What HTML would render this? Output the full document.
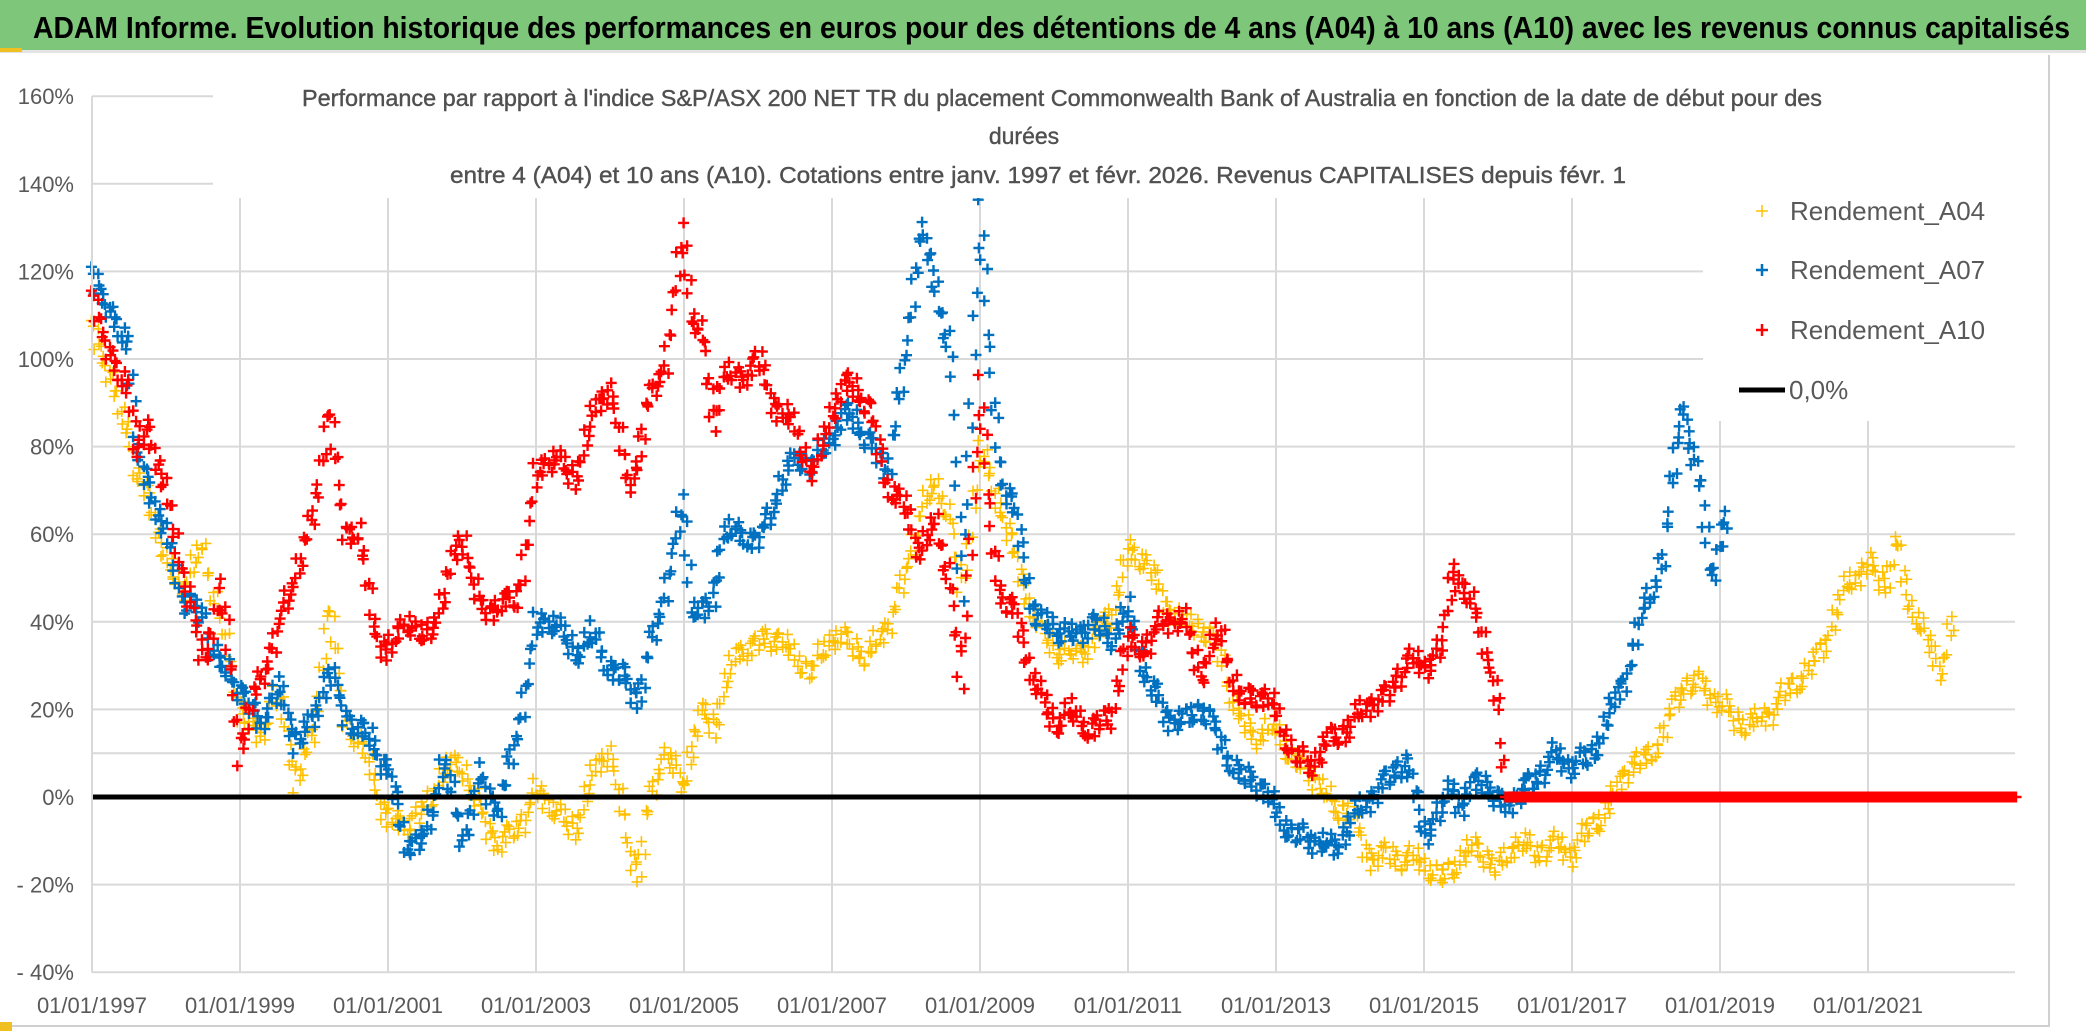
<!DOCTYPE html>
<html><head><meta charset="utf-8"><style>
html,body{margin:0;padding:0;background:#fff;}
svg{display:block;font-family:"Liberation Sans Narrow","Liberation Sans",sans-serif;}
</style></head><body>
<svg id="chart" width="2086" height="1031" viewBox="0 0 2086 1031" xmlns="http://www.w3.org/2000/svg">
<rect x="0" y="0" width="2086" height="1031" fill="#fff"/>
<rect x="0" y="0" width="2086" height="50" fill="#7dc67a"/>
<rect x="0" y="50" width="2086" height="3" fill="#e4e4e4"/>
<rect x="0" y="48" width="22" height="4" fill="#f0c020"/>
<text x="33" y="38" font-size="31" font-weight="bold" fill="#000" textLength="2037" lengthAdjust="spacingAndGlyphs">ADAM Informe. Evolution historique des performances en euros pour des détentions de 4 ans (A04) à 10 ans (A10) avec les revenus connus capitalisés</text>
<line x1="2049" y1="55" x2="2049" y2="1025" stroke="#d0d0d0" stroke-width="2"/>
<line x1="0" y1="1026" x2="2050" y2="1026" stroke="#d0d0d0" stroke-width="2"/>
<rect x="0" y="1022" width="12" height="9" fill="#f0c020"/>
<g id="grid"></g>
<g id="marks"></g>
<rect x="213" y="60" width="1802" height="138" fill="#fff"/>
<rect x="1703" y="198" width="312" height="223" fill="#fff"/>
<g fill="#505050" font-size="23" stroke="#505050" stroke-width="0.4">
<text x="302" y="106" textLength="1520" lengthAdjust="spacingAndGlyphs">Performance par rapport à l'indice S&amp;P/ASX 200 NET TR  du placement Commonwealth Bank of Australia en fonction de la date de début pour des</text>
<text x="1024" y="144" text-anchor="middle">durées</text>
<text x="450" y="183" textLength="1176" lengthAdjust="spacingAndGlyphs">entre 4 (A04) et 10 ans (A10). Cotations entre janv. 1997 et févr. 2026. Revenus CAPITALISES depuis févr. 1</text>
</g>
<g id="axes"></g>
<g font-size="26" fill="#595959">
<g><path d="M1756 211h12M1762 205v12" stroke="#ffc000" stroke-width="1.5"/><text x="1790" y="220">Rendement_A04</text></g>
<g><path d="M1756 270h12M1762 264v12" stroke="#0070c0" stroke-width="2.5"/><text x="1790" y="279">Rendement_A07</text></g>
<g><path d="M1756 330h12M1762 324v12" stroke="#ff0000" stroke-width="2.5"/><text x="1790" y="339">Rendement_A10</text></g>
<g><line x1="1739" y1="390" x2="1785" y2="390" stroke="#000" stroke-width="5"/><text x="1789" y="399">0,0%</text></g>
</g>
</svg>
<script>
const a04Dates=[1997.0,1997.25,1997.5,1997.6,1997.75,1998.0,1998.25,1998.5,1998.75,1999.0,1999.25,1999.5,1999.75,2000.0,2000.2,2000.4,2000.6,2000.8,2001.0,2001.25,2001.5,2001.75,2002.0,2002.25,2002.5,2002.75,2003.0,2003.25,2003.5,2003.75,2004.0,2004.25,2004.4,2004.5,2004.75,2005.0,2005.1,2005.25,2005.4,2005.5,2005.75,2006.0,2006.25,2006.5,2006.75,2007.0,2007.25,2007.5,2007.75,2008.0,2008.2,2008.4,2008.6,2008.75,2009.0,2009.15,2009.3,2009.5,2009.75,2010.0,2010.25,2010.5,2010.75,2011.0,2011.25,2011.5,2011.75,2012.0,2012.25,2012.5,2012.75,2013.0,2013.25,2013.5,2013.75,2014.0,2014.25,2014.5,2014.75,2015.0,2015.25,2015.5,2015.75,2016.0,2016.25,2016.5,2016.75,2017.0,2017.25,2017.5,2017.75,2018.0,2018.25,2018.5,2018.75,2019.0,2019.25,2019.5,2019.75,2020.0,2020.25,2020.5,2020.75,2021.0,2021.25,2021.4,2021.5,2021.75,2022.0,2022.15];
const a04Values=[110,95,85,72,70,52,48,58,40,20,12,25,5,15,45,18,12,5,-5,-5,-3,5,7,-3,-10,-7,0,-3,-8,5,12,-12,-18,-5,12,2,13,20,15,22,33,35,38,32,28,36,35,33,40,50,65,70,65,45,80,72,65,52,40,35,33,35,40,55,55,45,40,38,32,18,15,16,7,5,-2,-2,-13,-14,-15,-15,-18,-13,-12,-18,-10,-12,-10,-13,-8,-3,8,9,15,25,25,22,18,17,20,25,30,40,50,52,48,58,48,38,30,40];
const a07Dates=[1997.0,1997.25,1997.5,1997.6,1997.75,1998.0,1998.25,1998.5,1998.75,1999.0,1999.25,1999.5,1999.75,2000.0,2000.2,2000.4,2000.6,2000.8,2001.0,2001.25,2001.5,2001.75,2002.0,2002.25,2002.5,2002.75,2003.0,2003.25,2003.5,2003.75,2004.0,2004.25,2004.4,2004.5,2004.75,2005.0,2005.1,2005.25,2005.4,2005.5,2005.75,2006.0,2006.25,2006.5,2006.75,2007.0,2007.25,2007.5,2007.75,2008.0,2008.2,2008.4,2008.6,2008.75,2009.0,2009.15,2009.3,2009.5,2009.75,2010.0,2010.25,2010.5,2010.75,2011.0,2011.25,2011.5,2011.75,2012.0,2012.25,2012.5,2012.75,2013.0,2013.25,2013.5,2013.75,2014.0,2014.25,2014.5,2014.75,2015.0,2015.25,2015.4,2015.5,2015.75,2016.0,2016.25,2016.5,2016.75,2017.0,2017.25,2017.5,2017.75,2018.0,2018.25,2018.4,2018.5,2018.6,2018.75,2018.9,2019.1];
const a07Values=[122,110,105,78,72,58,45,42,30,25,15,25,14,18,30,18,15,12,7,-10,-10,8,-10,5,-2,15,38,40,33,38,30,25,22,30,48,68,45,42,45,58,60,58,70,78,75,82,88,82,75,100,130,115,103,45,135,95,72,62,40,40,37,40,35,42,28,20,17,20,12,5,5,-3,-10,-10,-12,-5,0,3,8,-8,-2,5,-3,5,-3,0,5,10,7,8,18,30,45,55,78,90,78,70,50,65];
const a10Dates=[1997.0,1997.25,1997.5,1997.6,1997.75,1998.0,1998.25,1998.5,1998.75,1999.0,1999.25,1999.5,1999.75,2000.0,2000.2,2000.4,2000.6,2000.8,2001.0,2001.25,2001.5,2001.75,2002.0,2002.25,2002.5,2002.75,2003.0,2003.25,2003.5,2003.75,2004.0,2004.25,2004.4,2004.5,2004.75,2005.0,2005.1,2005.25,2005.4,2005.5,2005.75,2006.0,2006.25,2006.5,2006.75,2007.0,2007.25,2007.5,2007.75,2008.0,2008.2,2008.4,2008.6,2008.75,2009.0,2009.15,2009.3,2009.5,2009.75,2010.0,2010.25,2010.5,2010.75,2011.0,2011.25,2011.5,2011.75,2012.0,2012.25,2012.5,2012.75,2013.0,2013.25,2013.5,2013.75,2014.0,2014.25,2014.5,2014.75,2015.0,2015.25,2015.4,2015.5,2015.75,2016.0,2016.1,2023.0];
const a10Values=[117,100,95,77,85,68,50,32,48,10,25,37,52,65,90,60,60,40,33,42,35,45,60,43,45,45,72,78,72,87,95,70,78,88,100,130,112,105,85,95,95,100,90,85,72,88,95,90,72,65,55,62,50,25,95,60,45,40,25,18,20,15,17,35,35,42,40,27,38,22,25,20,8,7,14,17,22,22,30,30,35,55,48,40,20,0,0];
const yTicks=[160,140,120,100,80,60,40,20,10,0,-20,-40];
const yTickLabels=["160%","140%","120%","100%","80%","60%","40%","20%","","0%","- 20%","- 40%"];
const xTicks=[1997,1999,2001,2003,2005,2007,2009,2011,2013,2015,2017,2019,2021];
const xTickLabels=["01/01/1997","01/01/1999","01/01/2001","01/01/2003","01/01/2005","01/01/2007","01/01/2009","01/01/2011","01/01/2013","01/01/2015","01/01/2017","01/01/2019","01/01/2021"];

const NS="http://www.w3.org/2000/svg";
const X0=92,PX_YEAR=74,Y0=797,PX_PCT=4.38,XR=2015;
function xs(yr){return X0+(yr-1997)*PX_YEAR;}
function ys(p){return Y0-p*PX_PCT;}
function mk(tag,attrs,parent){const e=document.createElementNS(NS,tag);for(const k in attrs)e.setAttribute(k,attrs[k]);parent.appendChild(e);return e;}
const grid=document.getElementById('grid'),axes=document.getElementById('axes'),marks=document.getElementById('marks');
yTicks.forEach((t,i)=>{
  const l=mk('line',{x1:X0,x2:XR,y1:ys(t),y2:ys(t),stroke:'#d9d9d9','stroke-width':2},grid);
  
  
  if(yTickLabels[i]){
    const tx=mk('text',{x:74,y:ys(t)+8,'text-anchor':'end','font-size':22,fill:'#595959'},axes);
    tx.textContent=yTickLabels[i];
    
    
  }
});
xTicks.forEach((t,i)=>{
  const l=mk('line',{x1:xs(t),x2:xs(t),y1:ys(160),y2:ys(-40),stroke:'#d9d9d9','stroke-width':2},grid);
  
  
  const tx=mk('text',{x:xs(t),y:1013,'text-anchor':'middle','font-size':22,fill:'#595959'},axes);
  tx.textContent=xTickLabels[i];
  
  
});
function series(dates,vals,color,sw,name){
  let d='';let k=0;
  for(let i=0;i<dates.length;i++){
    const x1=xs(dates[i]),y1=ys(vals[i]);
    const x2=i+1<dates.length?xs(dates[i+1]):x1,y2=i+1<dates.length?ys(vals[i+1]):y1;
    const n=Math.max(1,Math.ceil(Math.abs(x2-x1)/1.8));
    for(let j=0;j<n;j++){
      const f=j/n;k++;
      const flat=(vals[i]===0&&(i+1>=vals.length||vals[i+1]===0));
      const off=flat?0:Math.sin(k*1.9)*9+Math.sin(k*0.37)*6+Math.sin(k*0.11)*4;
      const xo=flat?0:Math.sin(k*2.7)*3;
      const x=x1+(x2-x1)*f+xo,y=y1+(y2-y1)*f+off;
      d+='M'+(x-5.5).toFixed(1)+' '+y.toFixed(1)+'h11M'+x.toFixed(1)+' '+(y-5.5).toFixed(1)+'v11';
    }
  }
  const p=mk('path',{d:d,stroke:color,'stroke-width':sw,fill:'none'},marks);
  
  
}
series(a04Dates,a04Values,'#ffc000',1.6,'series-a04');
series(a07Dates,a07Values,'#0070c0',2.4,'series-a07');
const z=mk('line',{x1:X0,x2:XR,y1:ys(0),y2:ys(0),stroke:'#000','stroke-width':5},marks);


series(a10Dates,a10Values,'#ff0000',2.4,'series-a10');
const ax=mk('line',{x1:X0,x2:X0,y1:ys(160),y2:ys(-40),stroke:'#d9d9d9','stroke-width':2},axes);


</script>
</body></html>
